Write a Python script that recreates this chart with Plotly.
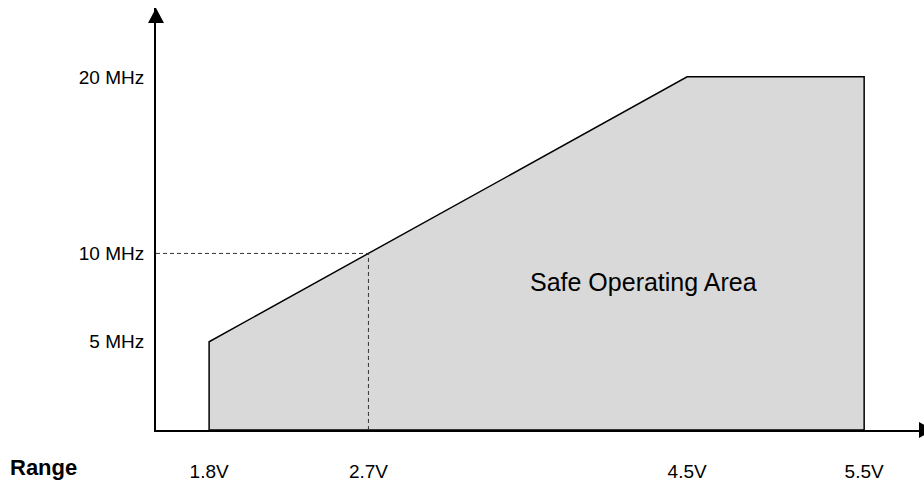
import plotly.graph_objects as go

# Safe operating envelope: supply voltage (V) vs. max clock frequency (MHz)
voltage = [1.8, 2.7, 4.5, 5.5]
freq_mhz = [5, 10, 20, 20]

# Reference point marked with dashed guides
ref_v = 2.7
ref_f = 10

x_ticks = [1.8, 2.7, 4.5, 5.5]
x_labels = ["1.8V", "2.7V", "4.5V", "5.5V"]
y_ticks = [5, 10, 20]
y_labels = ["5 MHz", "10 MHz", "20 MHz"]

x_origin = 1.5
x_end = 5.838
y_top = 23.9

FONT = "Arial, Liberation Sans, sans-serif"

# closed polygon down to the voltage axis
poly_x = [voltage[0]] + voltage + [voltage[-1], voltage[0]]
poly_y = [0] + freq_mhz + [0, 0]

fig = go.Figure()
fig.add_trace(go.Scatter(
    x=poly_x, y=poly_y, mode="lines", fill="toself",
    fillcolor="#d9d9d9", line=dict(color="#000000", width=1.5),
    hoverinfo="skip", showlegend=False,
))
fig.add_trace(go.Scatter(
    x=[x_origin, ref_v, ref_v], y=[ref_f, ref_f, 0], mode="lines",
    line=dict(color="#333333", width=1, dash="4px,3px"),
    hoverinfo="skip", showlegend=False,
))

# arrowheads at the ends of both axes (pixel-sized triangles)
arrow_common = dict(type="path", xref="paper", yref="paper",
                    xsizemode="pixel", ysizemode="pixel",
                    fillcolor="#000000", line=dict(width=0), layer="above")
shapes = [
    dict(xanchor=0, yanchor=1, path="M0,0 L-8,-15 L8,-15 Z", **arrow_common),
    dict(xanchor=1, yanchor=0, path="M10,0 L-5,8 L-5,-8 Z", **arrow_common),
]

fig.update_layout(
    width=924, height=482,
    margin=dict(l=156, r=0, t=8, b=49),
    paper_bgcolor="white", plot_bgcolor="white",
    font=dict(family=FONT, color="#000000", size=18),
    shapes=shapes,
    xaxis=dict(
        range=[x_origin, x_end], showgrid=False, zeroline=False,
        showline=True, linecolor="#000000", linewidth=2,
        tickmode="array", tickvals=x_ticks, ticktext=x_labels,
        ticks="", ticklabelstandoff=23, tickfont=dict(size=19),
    ),
    yaxis=dict(
        range=[0, y_top], showgrid=False, zeroline=False,
        showline=True, linecolor="#000000", linewidth=2,
        tickmode="array", tickvals=y_ticks, ticktext=y_labels,
        ticks="", ticklabelstandoff=6, tickfont=dict(size=19),
    ),
    annotations=[
        dict(xref="paper", yref="paper", x=-0.1927, y=0, yshift=-37,
             xanchor="left", yanchor="middle", showarrow=False,
             text="<b>Range</b>", font=dict(size=22)),
        dict(xref="x", yref="y", x=4.251, y=8.38, showarrow=False,
             text="Safe Operating Area", font=dict(size=25)),
    ],
)

fig.write_html("out.html")
